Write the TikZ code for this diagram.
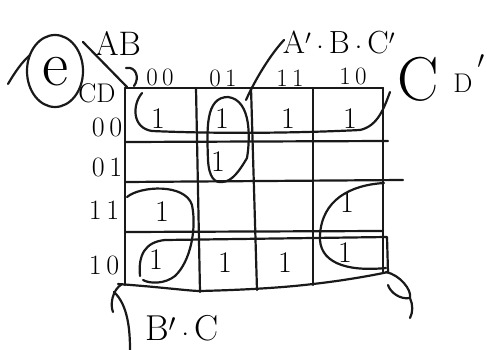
\documentclass[tikz,border=0pt]{standalone}
\begin{document}
\begin{tikzpicture}[x=1pt,y=-1pt,
  every path/.style={line width=2.2pt, line cap=round, line join=round},
  ink/.style={draw=black!90},
  one/.style={font=\fontsize{30}{30}\selectfont, inner sep=0pt},
  lab/.style={font=\fontsize{28}{28}\selectfont, inner sep=0pt},
  clab/.style={font=\fontsize{25}{25}\selectfont, inner sep=0pt},
  big/.style={font=\fontsize{32}{32}\selectfont, inner sep=0pt}]
\useasboundingbox (0,0) rectangle (487,350);

% grid
\draw[ink] (125,88) -- (383,88);
\draw[ink] (125,88) -- (125,285);
\draw[ink] (383,88) -- (383,272);
\draw[ink] (125,142) -- (388,141);
\draw[ink] (125,182) -- (403,180);
\draw[ink] (125,232) -- (383,231);
\draw[ink] (196,88) -- (200,292);
\draw[ink] (251,88) -- (257,290);
\draw[ink] (313,88) -- (313,285);

% bottom wavy edge
\draw[ink] (118,284) .. controls (160,287) and (190,291) .. (200,291)
  .. controls (240,290) and (280,288) .. (313,284)
  .. controls (340,281) and (370,276) .. (388,272);

% cells
\node[one] (c0000) at (158,119) {1};
\node[one] (c0100) at (222,119) {1};
\node[one] (c1100) at (288,119) {1};
\node[one] (c1000) at (350,119) {1};
\node[one] (c0101) at (218,162) {1};
\node[one] (c0011) at (162,212) {1};
\node[one] (c1011) at (347,203) {1};
\node[one] (c0010) at (156,260) {1};
\node[one] (c0110) at (225,263) {1};
\node[one] (c1110) at (285,263) {1};
\node[one] (c1010) at (345,253) {1};

% row labels
\node[lab] (r00) at (107,127) {0\,0};
\node[lab] (r01) at (107,167) {0\,1};
\node[lab] (r11) at (104,210) {1\,1};
\node[lab] (r10) at (104,265) {1\,0};

% column labels
\node[clab] (k00) at (160,77) {0\,0};
\node[clab] (k01) at (223,78) {0\,1};
\node[clab] (k11) at (290,78) {1\,1};
\node[clab] (k10) at (353,76) {1\,0};

% corner labels
\node[font=\fontsize{34}{34}\selectfont, inner sep=0pt] (ab) at (118,43) {AB};
\node[font=\fontsize{27}{27}\selectfont, inner sep=0pt] (cd) at (97,93) {CD};
\draw[ink] (83,42) -- (127,87);
\draw[ink] (126,68) .. controls (136,66) and (140,78) .. (134,86);

% circled e
\node[font=\fontsize{64}{64}\selectfont, inner sep=0pt] (e) at (55,72) {e};
\draw[ink] (55,71) ellipse [x radius=28, y radius=36];
\draw[ink] (8,84) .. controls (15,72) and (22,62) .. (30,55);

% row 00 loop
\draw[ink] (142,93) .. controls (132,105) and (132,128) .. (152,131)
  .. controls (220,134) and (300,133) .. (360,130)
  .. controls (378,126) and (384,108) .. (390,92);
\node[font=\fontsize{62}{62}\selectfont, inner sep=0pt] (cbig) at (418,79) {C};
\node[font=\fontsize{27}{27}\selectfont, inner sep=0pt] (dsm) at (463,83) {D};
\node[font=\fontsize{36}{36}\selectfont, inner sep=0pt] (dpr) at (481,66) {$'$};

% column 01 loop
\draw[ink] (228,97) .. controls (205,97) and (207,130) .. (208,160)
  .. controls (209,178) and (215,183) .. (222,182)
  .. controls (232,182) and (240,170) .. (247,158)
  .. controls (250,140) and (252,100) .. (228,97);
\draw[ink] (246,100) .. controls (255,80) and (270,55) .. (284,40);
\node[big] (abc) at (339,42) {A$'$\,$\cdot$\,B\,$\cdot$\,C$'$};

% left corner loop
\draw[ink] (127,197) .. controls (140,186) and (185,183) .. (192,205)
  .. controls (197,230) and (190,262) .. (175,276)
  .. controls (165,284) and (150,284) .. (143,280);

% right corner loop
\draw[ink] (384,183) .. controls (350,185) and (322,200) .. (320,235)
  .. controls (318,262) and (345,272) .. (386,268);

% row 10 loop
\draw[ink] (140,276) .. controls (138,255) and (145,242) .. (165,240)
  -- (387,237) -- (388,272);

% bottom right tail
\draw[ink] (386,272) .. controls (400,275) and (412,290) .. (410,298)
  .. controls (400,300) and (390,292) .. (388,285);
\draw[ink] (410,298) .. controls (413,305) and (413,312) .. (410,318);

% bottom left bracket and label
\draw[ink] (122,284) .. controls (112,290) and (110,305) .. (113,312);
\draw[ink] (114,292) .. controls (128,305) and (130,330) .. (130,350);
\node[font=\fontsize{36}{36}\selectfont, inner sep=0pt] (bc) at (182,328) {B$'$\,$\cdot$\,C};
\end{tikzpicture}
\end{document}
